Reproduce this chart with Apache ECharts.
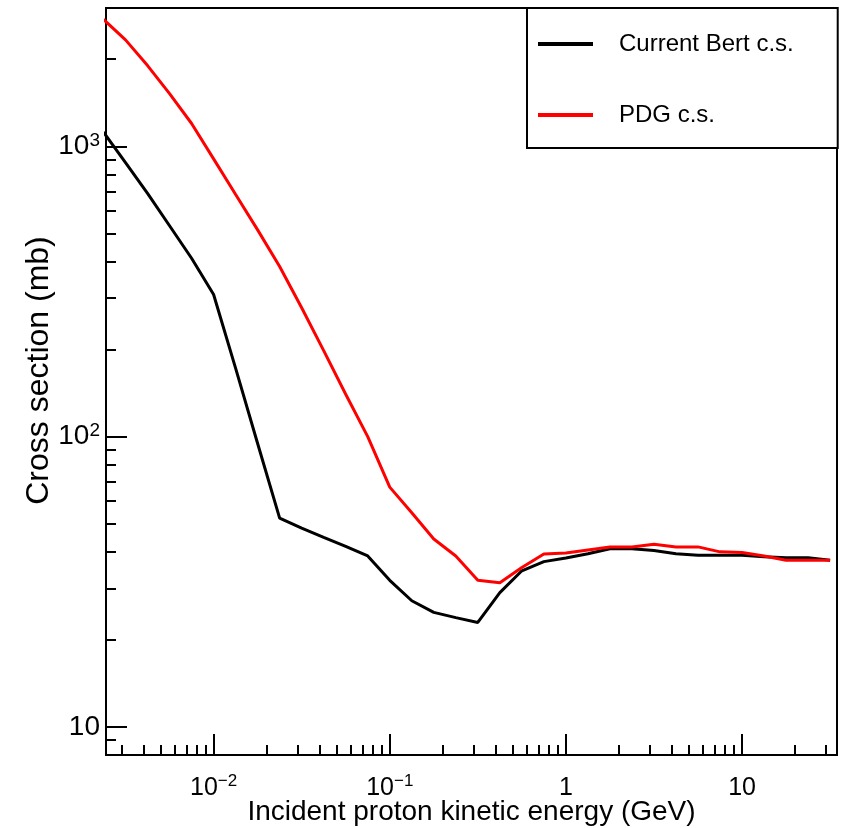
<!DOCTYPE html>
<html><head><meta charset="utf-8">
<script src="https://cdn.jsdelivr.net/npm/echarts@6/dist/echarts.min.js"></script>
<style>html,body{margin:0;padding:0;background:#fff}#c{width:846px;height:828px}</style>
</head><body><div id="c"></div>
<script>
// Incident proton kinetic energy (GeV)
const energy = [0.002371, 0.003162, 0.004217, 0.005623, 0.007499, 0.01, 0.01334, 0.01778, 0.02371, 0.03162, 0.04217, 0.05623, 0.07499, 0.1, 0.1334, 0.1778, 0.2371, 0.3162, 0.4217, 0.5623, 0.7499, 1, 1.334, 1.778, 2.371, 3.162, 4.217, 5.623, 7.499, 10, 13.34, 17.78, 23.71, 31.62];
// Cross sections (mb)
const bertCS = [1120, 880, 689, 533, 412, 309, 172, 94.7, 52.4, 48.4, 45.0, 41.9, 38.8, 32, 27.2, 24.8, 23.8, 22.9, 29.0, 34.5, 37.1, 38.2, 39.5, 41.1, 41.1, 40.5, 39.5, 39.0, 39.0, 39.0, 38.6, 38.3, 38.3, 37.5];
const pdgCS = [2740, 2330, 1900, 1520, 1200, 906, 683, 516, 386, 278, 198, 140, 100, 67, 54.7, 44.4, 38.8, 32.0, 31.4, 35.4, 39.4, 39.7, 40.7, 41.7, 41.7, 42.6, 41.7, 41.7, 40.1, 39.9, 38.8, 37.5, 37.5, 37.5];
const seriesNames = ['Current Bert c.s.', 'PDG c.s.'];

// Axis ticks
const xMajor = [0.01, 0.1, 1, 10];
const xMajorLabels = ['{b|10}{s|−2}', '{b|10}{s|−1}', '{b|1}', '{b|10}'];
const xMinor = [0.003,0.004,0.005,0.006,0.007,0.008,0.009,0.02,0.03,0.04,0.05,0.06,0.07,0.08,0.09,0.2,0.3,0.4,0.5,0.6,0.7,0.8,0.9,2,3,4,5,6,7,8,9,20,30];
const yMajor = [10, 100, 1000];
const yMajorLabels = ['{b|10}', '{b|10}{s|2}', '{b|10}{s|3}'];
const yMinor = [9,20,30,40,50,60,70,80,90,200,300,400,500,600,700,800,900,2000];

const FONT = '"Liberation Sans", Arial, Helvetica, sans-serif';
const X_MIN = 0.00245, X_MAX = 34.6, Y_MIN = 8.0, Y_MAX = 3000;

function lbl(values, labels) {
  return function (v) {
    for (let i = 0; i < values.length; i++) {
      if (Math.abs(v - values[i]) / values[i] < 1e-6) return labels[i];
    }
    return '';
  };
}
const richX = {
  b: {fontSize: 25, fontFamily: FONT, color: '#000', lineHeight: 30},
  s: {fontSize: 17, fontFamily: FONT, color: '#000', verticalAlign: 'top', lineHeight: 30, padding: [0,0,14,0]}
};
const richY = {
  b: {fontSize: 28, fontFamily: FONT, color: '#000', lineHeight: 30},
  s: {fontSize: 19, fontFamily: FONT, color: '#000', verticalAlign: 'top', lineHeight: 30, padding: [0,0,14,0]}
};

const chart = echarts.init(document.getElementById('c'), null, {renderer: 'canvas'});
chart.setOption({
  animation: false,
  backgroundColor: '#fff',
  grid: {left: 106, right: 9, top: 8, bottom: 73, show: true, borderColor: '#000', borderWidth: 2,
         backgroundColor: 'transparent', containLabel: false, outerBoundsMode: 'none'},
  xAxis: [{
    type: 'log', logBase: 10, min: X_MIN, max: X_MAX,
    name: 'Incident proton kinetic energy (GeV)', nameLocation: 'middle', nameGap: 43, nameMoveOverlap: false,
    nameTextStyle: {fontSize: 28, fontFamily: FONT, color: '#000'},
    axisLine: {show: true, lineStyle: {color: '#000', width: 2}},
    axisTick: {show: true, inside: true, length: 21, customValues: xMajor, lineStyle: {color: '#000', width: 2}},
    axisLabel: {show: true, customValues: xMajor, formatter: lbl(xMajor, xMajorLabels), rich: richX, margin: 18, color: '#000'},
    splitLine: {show: false}, minorTick: {show: false}
  }, {
    type: 'log', logBase: 10, min: X_MIN, max: X_MAX, position: 'bottom',
    axisLine: {show: false},
    axisTick: {show: true, inside: true, length: 10, customValues: xMinor, lineStyle: {color: '#000', width: 2}},
    axisLabel: {show: false}, splitLine: {show: false}
  }],
  yAxis: [{
    type: 'log', logBase: 10, min: Y_MIN, max: Y_MAX,
    name: 'Cross section (mb)', nameLocation: 'middle', nameGap: 51, nameRotate: 90, nameMoveOverlap: false,
    nameTextStyle: {fontSize: 32, fontFamily: FONT, color: '#000', padding: [0, 0, 0, 22]},
    axisLine: {show: true, lineStyle: {color: '#000', width: 2}},
    axisTick: {show: true, inside: true, length: 21, customValues: yMajor, lineStyle: {color: '#000', width: 2}},
    axisLabel: {show: true, customValues: yMajor, formatter: lbl(yMajor, yMajorLabels), rich: richY, margin: 6, color: '#000'},
    splitLine: {show: false}
  }, {
    type: 'log', logBase: 10, min: Y_MIN, max: Y_MAX, position: 'left',
    axisLine: {show: false},
    axisTick: {show: true, inside: true, length: 10, customValues: yMinor, lineStyle: {color: '#000', width: 2}},
    axisLabel: {show: false}, splitLine: {show: false}
  }],
  legend: {
    orient: 'vertical', left: 527, top: 8,
    padding: [24, 44, 21, 11], itemWidth: 55, itemHeight: 4, itemGap: 47, icon: 'rect',
    borderColor: '#000', borderWidth: 2, backgroundColor: '#fff',
    textStyle: {fontSize: 24, fontFamily: FONT, color: '#000', padding: [0, 0, 0, 21]},
    data: seriesNames
  },
  series: [{
    name: seriesNames[0], type: 'line', xAxisIndex: 0, yAxisIndex: 0,
    data: energy.map((e, i) => [e, bertCS[i]]),
    symbol: 'none', lineStyle: {color: '#000', width: 3}, itemStyle: {color: '#000'}, z: 3
  }, {
    name: seriesNames[1], type: 'line', xAxisIndex: 0, yAxisIndex: 0,
    data: energy.map((e, i) => [e, pdgCS[i]]),
    symbol: 'none', lineStyle: {color: '#ff0000', width: 3}, itemStyle: {color: '#ff0000'}, z: 4
  }]
});
</script>
</body></html>
